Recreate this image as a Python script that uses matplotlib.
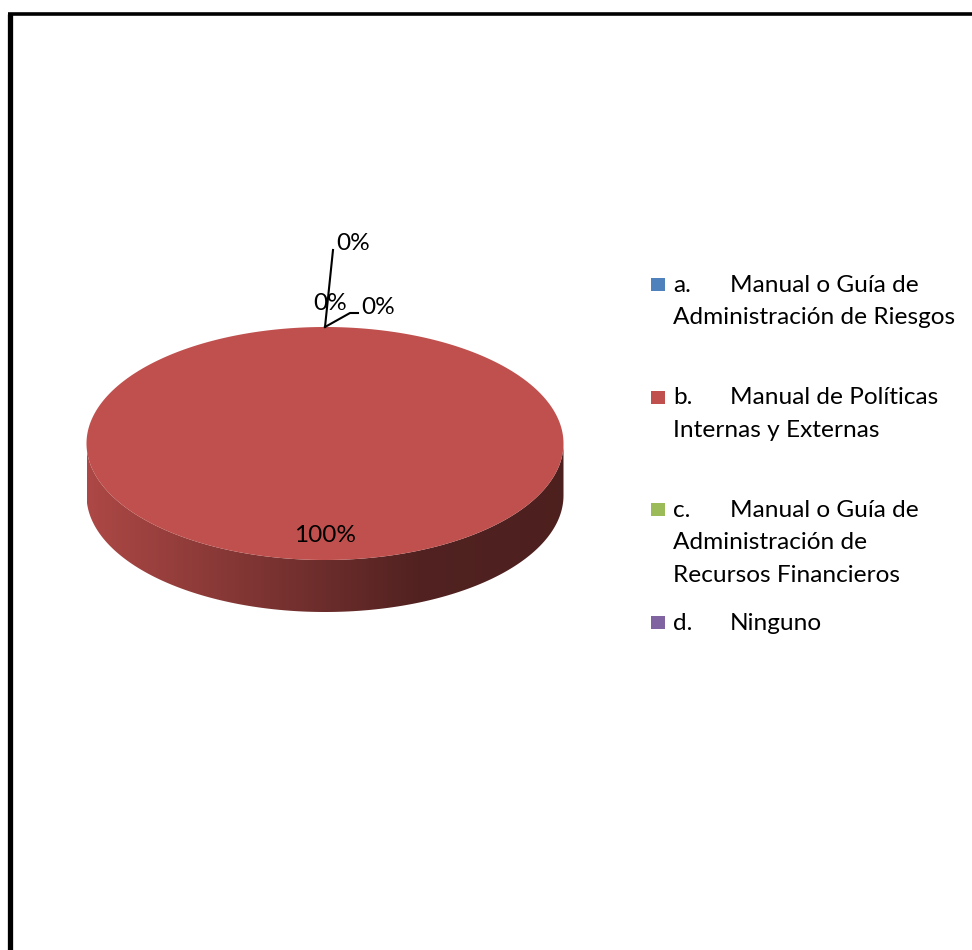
import numpy as np
import matplotlib.pyplot as plt
from matplotlib.patches import Polygon, Rectangle
from matplotlib.colors import to_rgb

# datos de la encuesta
letras = ["a.", "b.", "c.", "d."]
opciones = [
    ["Manual o Guía de", "Administración de Riesgos"],
    ["Manual de Políticas", "Internas y Externas"],
    ["Manual o Guía de", "Administración de", "Recursos Financieros"],
    ["Ninguno"],
]
valores = [0, 100, 0, 0]
colores = ["#4F81BD", "#C0504D", "#9BBB59", "#8064A2"]

plt.rcParams['font.family'] = ['Lato', 'DejaVu Sans']
fs = 17.6

fig = plt.figure(figsize=(9.72, 9.5), dpi=100)
ax = fig.add_axes([0, 0, 1, 1])
ax.set_xlim(0, 972)
ax.set_ylim(950, 0)
ax.axis("off")

# marco
ax.plot([9.5, 9.5], [950, 13.5], color="black", lw=3.8, solid_capstyle="butt")
ax.plot([7.5, 972], [13.5, 13.5], color="black", lw=2.6, solid_capstyle="butt")

# geometria del pastel 3D
cx, cy = 325, 443.5
rx, ry = 238.5, 116.5
prof = 52


def punto(t):
    return cx + rx * np.sin(t), cy - ry * np.cos(t)


total = sum(valores)
angulos = np.concatenate([[0], np.cumsum(valores) / total * 2 * np.pi])

# lados (solo la mitad frontal es visible)
for i, v in enumerate(valores):
    if v == 0:
        continue
    t1, t2 = angulos[i], angulos[i + 1]
    a, b = max(t1, np.pi / 2), min(t2, 3 * np.pi / 2)
    if b <= a:
        continue
    t = np.linspace(a, b, 200)
    xs, ys = punto(t)
    lado = np.column_stack([np.concatenate([xs, xs[::-1]]),
                            np.concatenate([ys, ys[::-1] + prof])])
    poly = Polygon(lado, closed=True, facecolor="none", edgecolor="none")
    ax.add_patch(poly)
    base = np.array(to_rgb(colores[i]))
    f = np.linspace(0, 1, 400)
    k = np.interp(f, [0, 0.7, 1], [0.9, 0.42, 0.4])
    grad = (k[:, None] * base[None, :])[None, :, :]
    im = ax.imshow(grad, extent=[cx - rx, cx + rx, cy + ry + prof, cy - ry],
                   aspect="auto", interpolation="bilinear", zorder=1)
    im.set_clip_path(poly)

# cara superior
for i, v in enumerate(valores):
    if v == 0:
        continue
    t = np.linspace(angulos[i], angulos[i + 1], 400)
    xs, ys = punto(t)
    if v < total:
        xs = np.concatenate([[cx], xs])
        ys = np.concatenate([[cy], ys])
    ax.add_patch(Polygon(np.column_stack([xs, ys]), closed=True,
                         facecolor=colores[i], edgecolor="none", zorder=2))

# etiquetas de porcentaje
desp_cero = [(8, -77, 13, 0), (0, 0, 0, 0), (25, -14, 33, -20)]
j = 0
for i, v in enumerate(valores):
    pct = "%d%%" % round(v / total * 100)
    tm = (angulos[i] + angulos[i + 1]) / 2
    if v > 0:
        x, y = cx + 0.0 * rx * np.sin(tm), cy - 0.79 * ry * np.cos(tm)
        ax.text(x, y, pct, fontsize=fs, ha="center", va="center", zorder=5)
    else:
        x0, y0 = punto(angulos[i])
        dx, dy, lx, ly = desp_cero[j]
        j += 1
        if dx == 0 and dy == 0:
            ax.text(x0 + 5, y0 - 23, pct, fontsize=fs, ha="center",
                    va="center", zorder=5)
            continue
        if ly == 0:
            ax.plot([x0, x0 + dx], [y0, y0 + dy], color="black", lw=1.5,
                    zorder=4)
            ax.text(x0 + dx + 3, y0 + dy - 6, pct, fontsize=fs, ha="left",
                    va="center", zorder=5)
        else:
            ax.plot([x0, x0 + dx, x0 + lx], [y0, y0 + dy, y0 + dy],
                    color="black", lw=1.5, zorder=4)
            ax.text(x0 + lx + 3, y0 + dy - 6, pct, fontsize=fs, ha="left",
                    va="center", zorder=5)

# leyenda
ley_x, ley_y, paso, interlinea = 651, 285, 112.7, 32.5
for i, (letra, lineas) in enumerate(zip(letras, opciones)):
    y = ley_y + i * paso
    ax.add_patch(Rectangle((ley_x, y - 7), 14, 13, facecolor=colores[i],
                           edgecolor="none"))
    ax.text(673, y, letra, fontsize=fs, ha="left", va="center")
    ax.text(730, y, lineas[0], fontsize=fs, ha="left", va="center")
    for k, linea in enumerate(lineas[1:], start=1):
        ax.text(673, y + k * interlinea, linea, fontsize=fs, ha="left",
                va="center")

fig.savefig("out.png", dpi=100, facecolor="white")
